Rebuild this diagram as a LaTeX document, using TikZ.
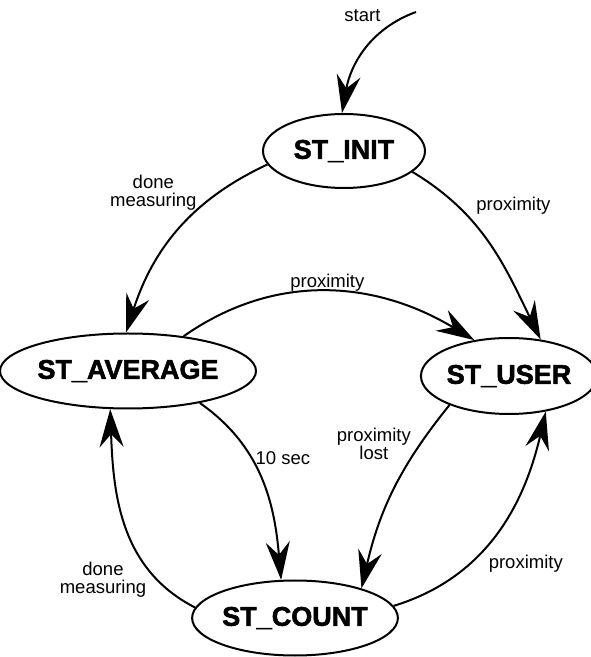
\documentclass[tikz,border=0pt]{standalone}
\usepackage{fontspec}
\setmainfont{Liberation Sans}
\newfontfamily\statefont{Liberation Sans Bold}[FakeBold=2]
\usetikzlibrary{arrows.meta,shapes.geometric}

\begin{document}
\begin{tikzpicture}
        [x=1pt,y=1pt,line width=2pt,>={Stealth[length=38pt,width=24pt,inset=13pt]},
         state/.style={ellipse,draw,inner sep=0pt,font=\statefont\fontsize{27}{30}\selectfont},
         lbl/.style={rectangle,draw=none,align=center,inner sep=2pt,font=\fontsize{18.5}{18}\selectfont}]
        \useasboundingbox (0,0) rectangle (591,657);
        \node[state,minimum width=162pt,minimum height=74pt] (I) at (344,506) {ST\_INIT};
        \node[state,minimum width=224pt,minimum height=75pt] (A) at (128,286) {ST\_AVERAGE};
        \node[state,minimum width=162pt,minimum height=76pt] (U) at (509,281) {ST\_USER};
        \node[state,minimum width=203pt,minimum height=75pt] (C) at (295,39) {ST\_COUNT};
        \coordinate (S) at (416,645);

        \path [->] (S) edge[out=200,in=80] node[lbl,pos=.2,anchor=south east,xshift=-8pt] {start} (I.93);
        \path [->] (I.190) edge[out=205,in=72] node[lbl,pos=.3,anchor=south east,xshift=-8pt,yshift=-12pt] {done\\measuring} (A.93);
        \path [->] (I.343) edge[out=329,in=116] node[lbl,pos=.3,anchor=south west,xshift=9pt,yshift=-4pt] {proximity} (U.49);
        \path [->] (A.32) edge[out=35,in=149] node[lbl,pos=.5,anchor=south,yshift=-3pt] {proximity} (U.134);
        \path [->] (A.336) edge[out=325,in=95] node[lbl,pos=.3,anchor=west,xshift=9pt,yshift=-12pt] {10 sec} (C.110);
        \path [->] (U.206) edge[out=231,in=77] node[lbl,pos=.2,anchor=east,xshift=-9pt,yshift=-3pt] {proximity\\lost} (C.24);
        \path [->] (C.7) edge[out=17,in=257] node[lbl,pos=.4,anchor=west,xshift=5pt,yshift=-11pt] {proximity} (U.316);
        \path [->] (C.174) edge[out=153,in=272] node[lbl,pos=.3,anchor=east,xshift=5pt,yshift=-16pt] {done\\measuring} (A.245);

    \end{tikzpicture}
\end{document}
